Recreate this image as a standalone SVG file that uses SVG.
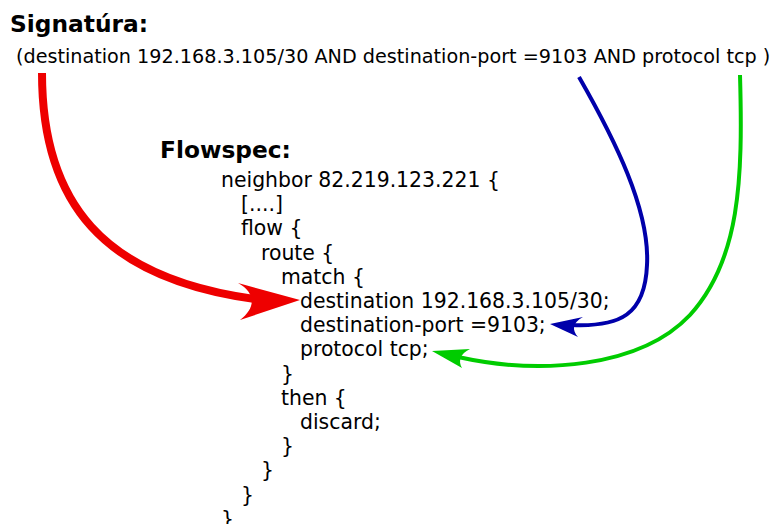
<svg xmlns="http://www.w3.org/2000/svg" width="771" height="524" viewBox="0 0 771 524">
  <style>
    text { font-family: "DejaVu Sans", "Liberation Sans", sans-serif; fill: #000; }
    .head { font-size: 23.3px; font-weight: bold; }
    .sig { font-size: 19.2px; }
    .code { font-size: 20.4px; }
    .link { fill: none; stroke-linecap: butt; }
  </style>
  <rect width="771" height="524" fill="#fff"/>

  <!-- Signature rule -->
  <g id="signature">
    <text class="head" x="10" y="31.5">Signatúra:</text>
    <text class="sig" x="16" y="63">(destination 192.168.3.105/30 AND destination-port =9103 AND protocol tcp )</text>
  </g>

  <!-- Flowspec configuration -->
  <g id="flowspec">
    <text class="head" x="160" y="158">Flowspec:</text>
    <g>
      <text class="code" x="221" y="187">neighbor 82.219.123.221 {</text>
      <text class="code" x="241" y="211.2">[....]</text>
      <text class="code" x="241" y="235.4">flow {</text>
      <text class="code" x="261" y="259.6">route {</text>
      <text class="code" x="281" y="283.8">match {</text>
      <text class="code" x="300" y="308">destination 192.168.3.105/30;</text>
      <text class="code" x="300" y="332.2">destination-port =9103;</text>
      <text class="code" x="300" y="356.4">protocol tcp;</text>
      <text class="code" x="281" y="380.6">}</text>
      <text class="code" x="281" y="404.8">then {</text>
      <text class="code" x="300" y="429">discard;</text>
      <text class="code" x="281" y="453.2">}</text>
      <text class="code" x="261" y="477.4">}</text>
      <text class="code" x="241" y="501.6">}</text>
      <text class="code" x="221" y="525.8">}</text>
    </g>
  </g>

  <!-- Connectors: signature terms to flowspec match lines -->
  <g id="connectors">
    <g id="link-destination">
      <path class="link" d="M 42 73 C 42 200, 100 280, 262 300" stroke="#ee0000" stroke-width="8"/>
      <path d="M 300 300 L 238 283 C 256 293, 256 308, 240 320 Z" fill="#ee0000"/>
    </g>
    <g id="link-port">
      <path class="link" d="M 579 77 C 615 140, 650 210, 647 265 C 645 315, 620 327, 572 325" stroke="#0000aa" stroke-width="4"/>
      <path d="M 550 324 L 583 317 C 572 323, 572 330, 578 337 Z" fill="#0000aa"/>
    </g>
    <g id="link-protocol">
      <path class="link" d="M 740 75 C 743 180, 740 260, 690 315 C 640 368, 540 375, 458 357" stroke="#00cc00" stroke-width="4"/>
      <path d="M 432 351 L 470 349 C 460 354, 458 361, 462 368 Z" fill="#00cc00"/>
    </g>
  </g>
</svg>
